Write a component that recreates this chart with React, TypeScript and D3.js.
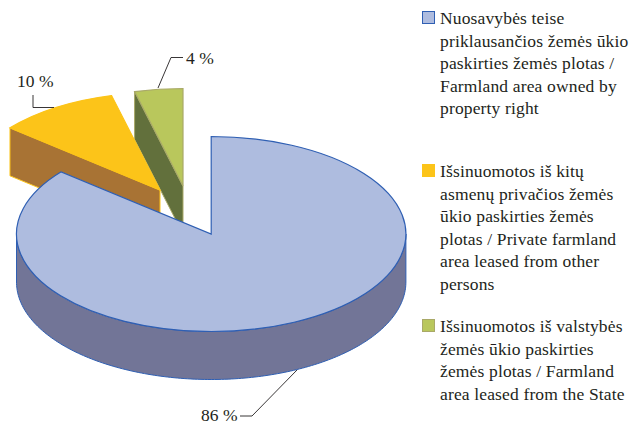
import React from 'react'
import { arc, area, line, pie, range } from 'd3'

const categories = ['owned', 'private', 'state']
const shares = [86, 10, 4]
const shareLabels = ['86 %', '10 %', '4 %']
const legendLines = [
  ['Nuosavybės teise', 'priklausančios žemės ūkio', 'paskirties žemės plotas /', 'Farmland area owned by', 'property right'],
  ['Išsinuomotos iš kitų', 'asmenų privačios žemės', 'ūkio paskirties žemės', 'plotas / Private farmland', 'area leased from other', 'persons'],
  ['Išsinuomotos iš valstybės', 'žemės ūkio paskirties', 'žemės plotas / Farmland', 'area leased from the State'],
]

const topColors = ['#aebcdf', '#fcc419', '#b9c75c']
const sideColors = ['#727597', '#a87334', '#62703c']
const edgeColors = ['#2f5fb3', '#fcc419', '#a9a968']

const rx = 194.7
const ry = 97.5
const depth = 48
const centers = [[211.2, 234], [160, 190], [183, 186]]
const legendTop = [24, 177, 332]
const lineGap = 22.6

const fontFamily = '"Liberation Serif", serif'

export default function App() {
  const slices = pie<number>().sort(null)(shares)
  const flat = ry / rx
  const topArc = arc<any>().innerRadius(0).outerRadius(rx)
  const px = (a: number, c: number[]) => c[0] + rx * Math.sin(a)
  const py = (a: number, c: number[]) => c[1] - ry * Math.cos(a)

  // front wall of the big slice
  const wallAngles = range(90, 270.5, 1).map((d) => (d * Math.PI) / 180)
  const wall = area<number>()
    .x((a) => px(a, centers[0]))
    .y0((a) => py(a, centers[0]))
    .y1((a) => py(a, centers[0]) + depth)

  // cut face of the exploded slices (the one facing the viewer)
  const cutFace = (i: number) => {
    const c = centers[i]
    const a = slices[i].startAngle
    return line()([
      [px(a, c), py(a, c)],
      [c[0], c[1]],
      [c[0], c[1] + depth],
      [px(a, c), py(a, c) + depth],
    ]) + 'Z'
  }

  const drawSlice = (i: number) => (
    <g key={categories[i]}>
      {i > 0 && <path d={cutFace(i)} fill={sideColors[i]} stroke={edgeColors[i]} strokeWidth={1} />}
      {i === 0 && <path d={wall(wallAngles) || ''} fill={sideColors[0]} stroke={edgeColors[0]} strokeWidth={1} />}
      <g transform={`translate(${centers[i][0]},${centers[i][1]}) scale(1,${flat})`}>
        <path
          d={topArc(slices[i]) || ''}
          fill={topColors[i]}
          stroke={edgeColors[i]}
          strokeWidth={1.2}
          vectorEffect="non-scaling-stroke"
        />
      </g>
    </g>
  )

  const leader = line()
  const leaders = [
    [[297, 370], [252, 416], [240, 416]],
    [[33, 95], [33, 107.5], [54, 107.5]],
    [[158, 88], [171, 57.5], [183, 57.5]],
  ] as [number, number][][]
  const labelPos = [[201, 421], [17, 87], [186, 64]]

  return (
    <svg
      width={633}
      height={425}
      style={{ position: 'absolute', left: 0, top: 0, background: '#fff' }}
      fontFamily={fontFamily}
    >
      {drawSlice(2)}
      {drawSlice(1)}
      {drawSlice(0)}

      {leaders.map((l, i) => (
        <path key={i} d={leader(l) || ''} fill="none" stroke="#231f20" strokeWidth={0.9} />
      ))}
      {shareLabels.map((t, i) => (
        <text key={t} x={labelPos[i][0]} y={labelPos[i][1]} fontSize={17.5} fill="#231f20">
          {t}
        </text>
      ))}

      {legendLines.map((lines, i) => (
        <g key={i}>
          <rect
            x={422.5}
            y={legendTop[i] - 12.5}
            width={12}
            height={12}
            fill={topColors[i]}
            stroke={edgeColors[i]}
            strokeWidth={1}
          />
          {lines.map((t, j) => (
            <text
              key={j}
              x={440}
              y={legendTop[i] + j * lineGap}
              fontSize={17.5}
              letterSpacing={0.15}
              fill="#231f20"
            >
              {t}
            </text>
          ))}
        </g>
      ))}
    </svg>
  )
}
